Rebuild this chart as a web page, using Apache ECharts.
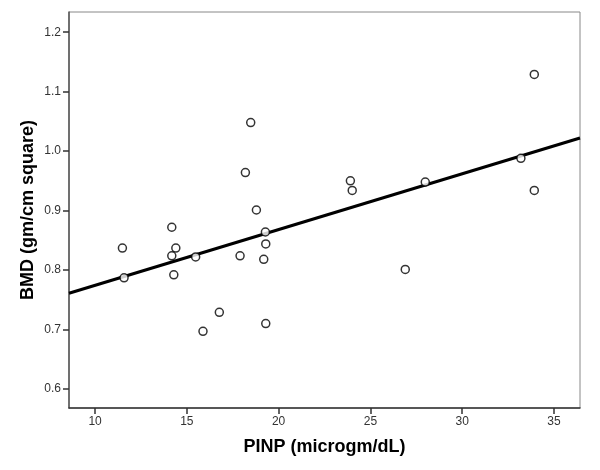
<!DOCTYPE html>
<html>
<head>
<meta charset="utf-8">
<script src="https://cdn.jsdelivr.net/npm/echarts@6/dist/echarts.min.js"></script>
<style>
  html, body { margin: 0; padding: 0; background: #fff; }
  #chart { width: 600px; height: 470px; }
</style>
</head>
<body>
<div id="chart"></div>
<script>
// PINP values (x) and BMD values (y)
var pinp = [11.49, 11.58, 14.18, 14.40, 14.18, 14.29, 15.48, 15.88, 16.77, 17.90, 18.19, 18.48,
            18.79, 19.19, 19.28, 19.30, 19.30, 23.91, 24.01, 26.90, 27.99, 33.20, 33.93, 33.93];
var bmd = [0.837, 0.787, 0.872, 0.837, 0.824, 0.792, 0.822, 0.697, 0.729, 0.824, 0.964, 1.048,
           0.901, 0.818, 0.864, 0.844, 0.710, 0.950, 0.934, 0.801, 0.948, 0.988, 1.129, 0.934];

// fitted line end points
var fitX = [8.58, 36.42];
var fitY = [0.761, 1.022];

var xTicks = [10, 15, 20, 25, 30, 35];
var yTicks = [0.6, 0.7, 0.8, 0.9, 1.0, 1.1, 1.2];

var points = [];
for (var i = 0; i < pinp.length; i++) {
  points.push([pinp[i], bmd[i]]);
}
var fitLine = [];
for (var i = 0; i < fitX.length; i++) {
  fitLine.push([fitX[i], fitY[i]]);
}

var font = "'Liberation Sans', Arial, sans-serif";

var option = {
  animation: false,
  grid: {
    left: 69,
    right: 20,
    top: 12,
    bottom: 62,
    show: true,
    borderColor: '#888',
    borderWidth: 1,
    backgroundColor: '#fff'
  },
  xAxis: {
    type: 'value',
    min: 8.58,
    max: 36.42,
    name: 'PINP (microgm/dL)',
    nameLocation: 'middle',
    nameGap: 30,
    nameTextStyle: { fontFamily: font, fontSize: 18, fontWeight: 'bold', color: '#000' },
    splitLine: { show: false },
    axisLine: { show: true, onZero: false, lineStyle: { color: '#333', width: 1.5 } },
    axisTick: { show: true, length: 6, customValues: xTicks, lineStyle: { color: '#333', width: 1.5 } },
    axisLabel: {
      customValues: xTicks,
      fontFamily: font, fontSize: 12, color: '#333', margin: 8
    }
  },
  yAxis: {
    type: 'value',
    min: 0.568,
    max: 1.234,
    name: 'BMD (gm/cm square)',
    nameLocation: 'middle',
    nameGap: 32,
    nameMoveOverlap: false,
    nameRotate: 90,
    nameTextStyle: { fontFamily: font, fontSize: 18, fontWeight: 'bold', color: '#000' },
    splitLine: { show: false },
    axisLine: { show: true, onZero: false, lineStyle: { color: '#555', width: 1.5 } },
    axisTick: { show: true, length: 6, customValues: yTicks, lineStyle: { color: '#333', width: 1.5 } },
    axisLabel: {
      customValues: yTicks,
      fontFamily: font, fontSize: 12, color: '#333', margin: 8,
      formatter: function (v) { return v.toFixed(1); }
    }
  },
  series: [
    {
      type: 'line',
      data: fitLine,
      symbol: 'none',
      lineStyle: { color: '#000', width: 3 },
      z: 2
    },
    {
      type: 'scatter',
      data: points,
      symbol: 'circle',
      symbolSize: 8,
      itemStyle: { color: '#fff', borderColor: '#000', borderWidth: 1.5 },
      z: 3
    }
  ]
};

var myChart = echarts.init(document.getElementById('chart'), null, { renderer: 'canvas' });
myChart.setOption(option);
</script>
</body>
</html>
